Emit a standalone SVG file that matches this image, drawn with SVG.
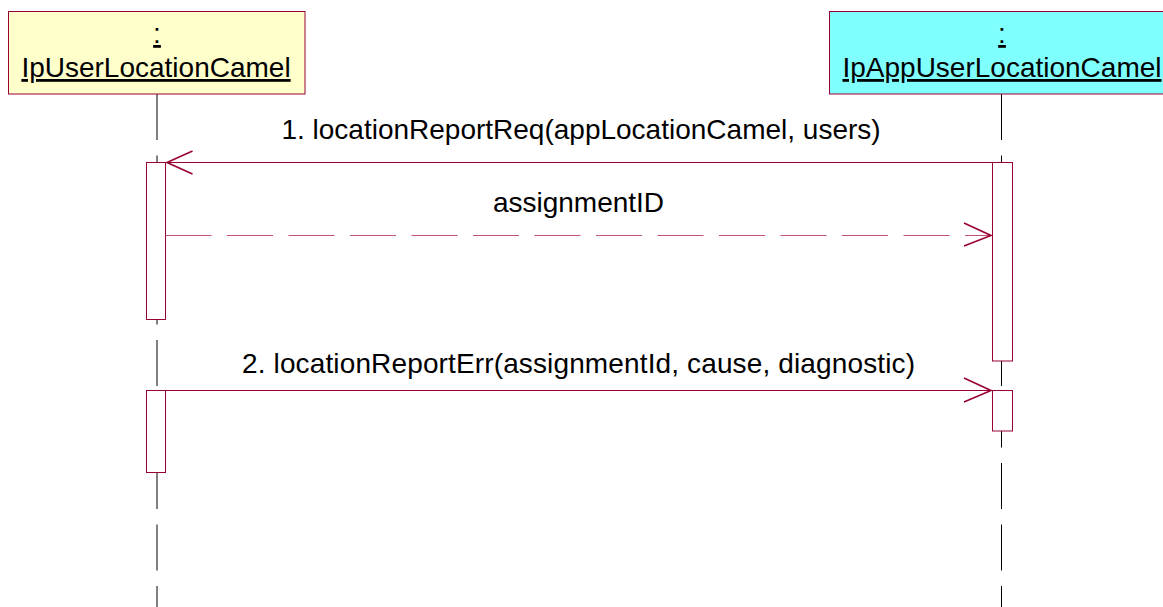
<svg xmlns="http://www.w3.org/2000/svg" width="1163" height="607" viewBox="0 0 1163 607">
<style>
  .t { font-family: "Liberation Sans", Arial, sans-serif; font-size: 28px; fill: #000; }
  .hdr { text-anchor: middle; text-decoration: underline; }
  .lbl { text-anchor: middle; }
  .life { stroke: #000; stroke-width: 1; stroke-dasharray: 46 15.5; fill: none; }
  .act { fill: #fff; stroke: #990033; stroke-width: 1; }
  .msg { stroke: #990033; stroke-width: 1; fill: none; }
  .ret { stroke: #c0507a; stroke-width: 1.2; fill: none; stroke-dasharray: 46 15.5; }
  .head { stroke: #990033; stroke-width: 1.6; fill: none; }
</style>
<rect width="1163" height="607" fill="#fff"/>
<g id="lifelines">
  <line class="life" x1="157" y1="94" x2="157" y2="607"/>
  <line class="life" x1="1001.5" y1="94" x2="1001.5" y2="607"/>
</g>
<g id="node-IpUserLocationCamel">
  <rect x="8.5" y="11.5" width="296.5" height="82.5" fill="#ffffcc" stroke="#990033" stroke-width="1"/>
  <text class="t hdr" x="157" y="43">:</text>
  <text class="t hdr" x="156" y="77">IpUserLocationCamel</text>
</g>
<g id="node-IpAppUserLocationCamel">
  <rect x="829.5" y="11.5" width="345" height="82.5" fill="#80ffff" stroke="#990033" stroke-width="1"/>
  <text class="t hdr" x="1002" y="43">:</text>
  <text class="t hdr" x="1002" y="77">IpAppUserLocationCamel</text>
</g>
<g id="activations">
  <rect class="act" x="146.5" y="162.5" width="19" height="157"/>
  <rect class="act" x="146.5" y="390.5" width="19" height="82"/>
  <rect class="act" x="992.5" y="162.5" width="20" height="198.5"/>
  <rect class="act" x="992.5" y="390.5" width="20" height="40.5"/>
</g>
<g id="connectors">
  <line class="msg" x1="992" y1="162.5" x2="167" y2="162.5"/>
  <polyline class="head" points="192.5,151 167,162.5 192.5,174"/>
  <line class="ret" x1="165.5" y1="235.5" x2="991" y2="235.5"/>
  <polyline class="head" points="964,223 991,235.5 964,246"/>
  <line class="msg" x1="165.5" y1="390.5" x2="991" y2="390.5"/>
  <polyline class="head" points="964,378 991,390.5 964,402"/>
</g>
<g id="labels">
  <text class="t lbl" x="581" y="139">1. locationReportReq(appLocationCamel, users)</text>
  <text class="t lbl" x="578.5" y="212">assignmentID</text>
  <text class="t lbl" x="578.5" y="373" textLength="673" lengthAdjust="spacing">2. locationReportErr(assignmentId, cause, diagnostic)</text>
</g>
</svg>
